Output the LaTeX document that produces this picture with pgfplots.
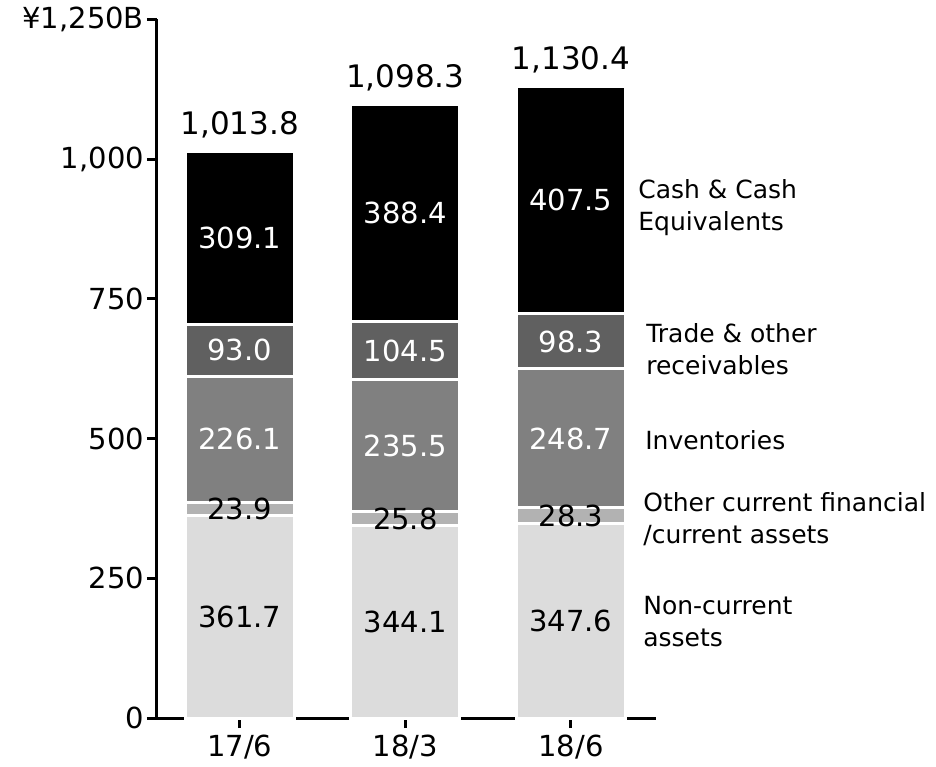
\documentclass[border=0pt]{standalone}
\usepackage{fontspec}
\setmainfont{DejaVu Sans}
\usepackage{pgfplots}
\usepackage{pgfplotstable}
\pgfplotsset{compat=1.18}
\definecolor{cNon}{HTML}{DCDCDC}
\definecolor{cOth}{HTML}{B2B2B2}
\definecolor{cInv}{HTML}{808080}
\definecolor{cTrd}{HTML}{606060}
\definecolor{cCsh}{HTML}{000000}
\pgfplotstableread{
x non oth inv trd csh tot
0 361.7 23.9 226.1 93.0 309.1 1013.8
1 344.1 25.8 235.5 104.5 388.4 1098.3
2 347.6 28.3 248.7 98.3 407.5 1130.4
}\datatab
\pgfplotsset{
  frame/.style={scale only axis, width=249.5pt, height=349.4pt,
    xmin=-0.5, xmax=2.514, ymin=0, ymax=1250, clip=false},
  lab/.style={draw=none, mark=none, nodes near coords, point meta=explicit,
    every node near coord/.style={font=\fontsize{14.5}{17}\selectfont, text=#1, anchor=center}},
}
\begin{document}
\begin{tikzpicture}
\begin{axis}[
  frame,
  ybar stacked, bar width=54.5pt,
  axis x line*=bottom, axis y line*=left,
  axis line style={line width=1.5pt},
  every tick/.style={black, line width=1.5pt},
  tick align=outside, major tick length=5pt,
  xtick={0,1,2}, xticklabels={17/6,18/3,18/6},
  ytick={0,250,500,750,1000,1250},
  yticklabels={0,250,500,750,{1,000},{¥1,250B}},
  tick label style={font=\fontsize{14.5}{17}\selectfont},
  yticklabel style={xshift=2pt},
]
\addplot[fill=cNon, draw=white, line width=1.5pt] table[x=x, y=non] {\datatab};
\addplot[fill=cOth, draw=white, line width=1.5pt] table[x=x, y=oth] {\datatab};
\addplot[fill=cInv, draw=white, line width=1.5pt] table[x=x, y=inv] {\datatab};
\addplot[fill=cTrd, draw=white, line width=1.5pt] table[x=x, y=trd] {\datatab};
\addplot[fill=cCsh, draw=white, line width=1.5pt] table[x=x, y=csh] {\datatab};
\path (rel axis cs:-0.3146,-0.0658) rectangle (rel axis cs:1.5611,1.0276);
\end{axis}
\begin{axis}[
  frame, hide axis,
  /pgf/number format/.cd, fixed, fixed zerofill, precision=1, 1000 sep={,}, assume math mode=true,
]
\addplot[lab=black] table[x=x, y expr={\thisrow{non}/2}, meta=non] {\datatab};
\addplot[lab=black] table[x=x, y expr={\thisrow{non}+\thisrow{oth}/2}, meta=oth] {\datatab};
\addplot[lab=white] table[x=x, y expr={\thisrow{non}+\thisrow{oth}+\thisrow{inv}/2}, meta=inv] {\datatab};
\addplot[lab=white] table[x=x, y expr={\thisrow{non}+\thisrow{oth}+\thisrow{inv}+\thisrow{trd}/2}, meta=trd] {\datatab};
\addplot[lab=white] table[x=x, y expr={\thisrow{tot}-\thisrow{csh}/2}, meta=csh] {\datatab};
\addplot[draw=none, mark=none, nodes near coords, point meta=explicit,
  every node near coord/.style={font=\fontsize{15.5}{18}\selectfont, text=black, anchor=base, yshift=8.5pt}]
  table[x=x, y=tot, meta=tot] {\datatab};
\begin{scope}[every node/.style={anchor=west, align=left, inner sep=0pt, font=\fontsize{12.5}{16}\selectfont}]
\node at (axis cs:2.405,914) {Cash \& Cash\\Equivalents};
\node at (axis cs:2.453,660) {Trade \& other\\receivables};
\node at (axis cs:2.447,497) {Inventories};
\node at (axis cs:2.435,355) {Other current financial\\/current assets};
\node at (axis cs:2.435,173) {Non-current\\assets};
\end{scope}
\end{axis}
\end{tikzpicture}
\end{document}
